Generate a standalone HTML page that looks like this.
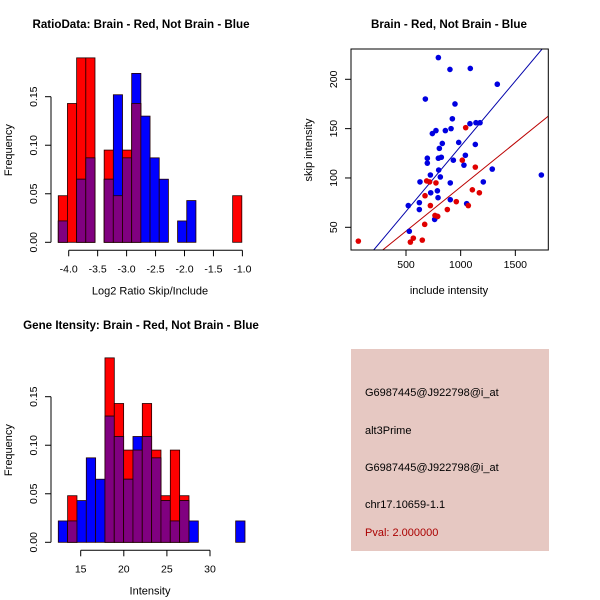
<!DOCTYPE html>
<html><head><meta charset="utf-8"><style>
html,body{margin:0;padding:0;background:#fff;}
svg{display:block;font-family:"Liberation Sans",sans-serif;}
</style></head><body>
<svg id="c" width="600" height="600" viewBox="0 0 600 600">
<rect width="600" height="600" fill="#fff"/>
<rect x="351" y="349" width="198" height="202" fill="#e6c8c2"/>
<g font-size="11" fill="#000">
<text x="365" y="396">G6987445@J922798@i_at</text>
<text x="365" y="434">alt3Prime</text>
<text x="365" y="471">G6987445@J922798@i_at</text>
<text x="365" y="508">chr17.10659-1.1</text>
<text x="365" y="536" fill="#aa0000">Pval: 2.000000</text>
</g>
</svg>
<script>
// ---- Ratio histogram data ----
const ratioLo = -4.18, ratioBinW = 0.1585;
const ratioRed  = [0.048,0.143,0.19,0.19,0,0.095,0.048,0.095,0.143,0,0,0,0,0,0,0,0,0,0,0.048];
const ratioBlue = [0.022,0,0.065,0.087,0,0.065,0.152,0.087,0.174,0.13,0.087,0.065,0,0.022,0.043,0,0,0,0,0];
const ratioTicks = [-4.0,-3.5,-3.0,-2.5,-2.0,-1.5,-1.0];
const freqTicks = [0.00,0.05,0.10,0.15];
// ---- Intensity histogram data ----
const intLo = 12.4, intBinW = 1.083;
const intRed  = [0,0.048,0,0,0,0.19,0.143,0.095,0.095,0.143,0.095,0.048,0.095,0.048,0,0,0,0,0,0];
const intBlue = [0.022,0.022,0.043,0.087,0.065,0.13,0.109,0.065,0.109,0.109,0.087,0.043,0.022,0.043,0.022,0,0,0,0,0.022];
const intTicks = [15,20,25,30];
// ---- Scatter data ----
const blueX = [796,902,1088,1335,677,948,924,912,860,774,741,1177,1140,1085,832,982,805,1134,695,796,823,933,1043,1030,695,723,628,799,814,1207,1289,1738,905,726,787,793,905,1055,622,521,622,762,787,530];
const blueY = [222,210,211,195,180,175,160,150,148,148,145,156,156,155,135,136,130,134,120,120,121,118,123,113,115,103,96,108,101,96,109,103,95,85,87,80,78,74,75,72,68,58,61,46];
const redX = [1046,1015,1134,774,689,716,674,1107,1171,960,1070,723,878,765,790,671,567,540,649,64];
const redY = [151,118,111,95,97,96,82,88,85,76,72,72,68,62,61,53,39,35,37,36];
const blueSlope = 0.1322, blueInt = 0;
const redSlope = 0.0896, redInt = 1.3;
const scatXTicks = [500,1000,1500];
const scatYTicks = [50,100,150,200];

const svg = document.getElementById('c');
const NS = 'http://www.w3.org/2000/svg';
function mk(tag, attrs, parent){
  const e = document.createElementNS(NS, tag);
  for (const k in attrs) e.setAttribute(k, attrs[k]);
  (parent||svg).appendChild(e);
  return e;
}
function txt(x,y,s,attrs){
  const t = mk('text', Object.assign({x:x,y:y}, attrs||{}));
  t.textContent = s;
  return t;
}

function histogram(prefix, red, blue, lo, bw, xTicks, xs, ys, title, xlabel, top){
  const g = mk('g', {});
  
  
  for (let i = 0; i < red.length; i++) {
    const x0 = xs(lo + i*bw), x1 = xs(lo + (i+1)*bw);
    const layers = [];
    if (red[i] > 0) layers.push(['#ff0000', red[i], 'red']);
    if (blue[i] > 0) layers.push(['#0000ff', blue[i], 'blue']);
    if (red[i] > 0 && blue[i] > 0) layers.push(['#800080', Math.min(red[i], blue[i]), 'overlap']);
    layers.forEach(function(L){
      const r = mk('rect', {x:x0, y:ys(L[1]), width:x1-x0, height:ys(0)-ys(L[1]), fill:L[0], stroke:'#220000', 'stroke-width':0.8}, g);
      
      
    });
  }
  const ax = mk('g', {stroke:'#000','stroke-width':1,fill:'none'});
  
  
  mk('line', {x1:51, x2:51, y1:ys(0), y2:ys(0.15)}, ax);
  freqTicks.forEach(function(v){
    const y = ys(v);
    mk('line', {x1:45, x2:51, y1:y, y2:y}, ax);
    const t = txt(37, y, v.toFixed(2), {'font-size':10.5,'text-anchor':'middle',transform:'rotate(-90 37 '+y+')'});
    
    
  });
  const bx = mk('g', {stroke:'#000','stroke-width':1,fill:'none'});
  
  
  const ay = ys(0) + 8;
  mk('line', {x1:xs(xTicks[0]), x2:xs(xTicks[xTicks.length-1]), y1:ay, y2:ay}, bx);
  xTicks.forEach(function(v){
    const x = xs(v);
    mk('line', {x1:x, x2:x, y1:ay, y2:ay+6}, bx);
    const t = txt(x, ay+22, (Number.isInteger(v) && Math.abs(v)>=5) ? String(v) : v.toFixed(1), {'font-size':10.5,'text-anchor':'middle'});
    
    
  });
  const tt = txt(141, top, title, {'font-size':11.6,'font-weight':'bold','text-anchor':'middle'});
  
  
  const xl = txt(150, ys(0)+52, xlabel, {'font-size':11,'text-anchor':'middle'});
  
  
  const my = (ys(0)+ys(0.19))/2;
  const yl = txt(12, my, 'Frequency', {'font-size':11,'text-anchor':'middle',transform:'rotate(-90 12 '+my+')'});
  
  
}

const yScale1 = function(v){ return 242.3 - v*970.7; };
const xRatio = function(v){ return 68.7 + (v+4)*57.9; };
histogram('ratio', ratioRed, ratioBlue, ratioLo, ratioBinW, ratioTicks, xRatio, yScale1,
  'RatioData: Brain - Red, Not Brain - Blue', 'Log2 Ratio Skip/Include', 28);

const yScale2 = function(v){ return 542.3 - v*970.7; };
const xInt = function(v){ return 80.7 + (v-15)*8.62; };
histogram('intensity', intRed, intBlue, intLo, intBinW, intTicks, xInt, yScale2,
  'Gene Itensity: Brain - Red, Not Brain - Blue', 'Intensity', 329);

// ---- scatter ----
const sx = function(v){ return 406 + (v-500)*0.10933; };
const sy = function(v){ return 227.3 - (v-50)*0.98667; };
const box = {x0:351, x1:548.3, y0:49, y1:250};
const clip = mk('clipPath', {id:'clipS'});
mk('rect', {x:box.x0, y:box.y0, width:box.x1-box.x0, height:box.y1-box.y0}, clip);
const sg = mk('g', {'clip-path':'url(#clipS)'});


const xmin = (box.x0-406)/0.10933+500, xmax = (box.x1-406)/0.10933+500;
const bl = mk('line', {x1:sx(xmin), y1:sy(blueSlope*xmin+blueInt), x2:sx(xmax), y2:sy(blueSlope*xmax+blueInt), stroke:'#0000aa','stroke-width':1}, sg);


const rl = mk('line', {x1:sx(xmin), y1:sy(redSlope*xmin+redInt), x2:sx(xmax), y2:sy(redSlope*xmax+redInt), stroke:'#bb0000','stroke-width':1}, sg);


blueX.forEach(function(v,i){
  const c = mk('circle', {cx:sx(v), cy:sy(blueY[i]), r:2.8, fill:'#0000e0'}, sg);
  
  
});
redX.forEach(function(v,i){
  const c = mk('circle', {cx:sx(v), cy:sy(redY[i]), r:2.8, fill:'#e00000'}, sg);
  
  
});
const frame = mk('rect', {x:box.x0, y:box.y0, width:box.x1-box.x0, height:box.y1-box.y0, fill:'none', stroke:'#000','stroke-width':1});


const sax = mk('g', {stroke:'#000','stroke-width':1});


scatXTicks.forEach(function(v){
  const x = sx(v);
  mk('line', {x1:x, x2:x, y1:box.y1, y2:box.y1+6}, sax);
  const t = txt(x, box.y1+18, String(v), {'font-size':10.5,'text-anchor':'middle'});
  
  
});
scatYTicks.forEach(function(v){
  const y = sy(v);
  mk('line', {x1:box.x0-6, x2:box.x0, y1:y, y2:y}, sax);
  const t = txt(337, y, String(v), {'font-size':10.5,'text-anchor':'middle',transform:'rotate(-90 337 '+y+')'});
  
  
});
const st = txt(449, 28, 'Brain - Red, Not Brain - Blue', {'font-size':11.6,'font-weight':'bold','text-anchor':'middle'});


const sxl = txt(449, 298 - 4, 'include intensity', {'font-size':11,'text-anchor':'middle'});


const syl = txt(312, 150, 'skip intensity', {'font-size':11,'text-anchor':'middle',transform:'rotate(-90 312 150)'});


</script>
</body></html>
